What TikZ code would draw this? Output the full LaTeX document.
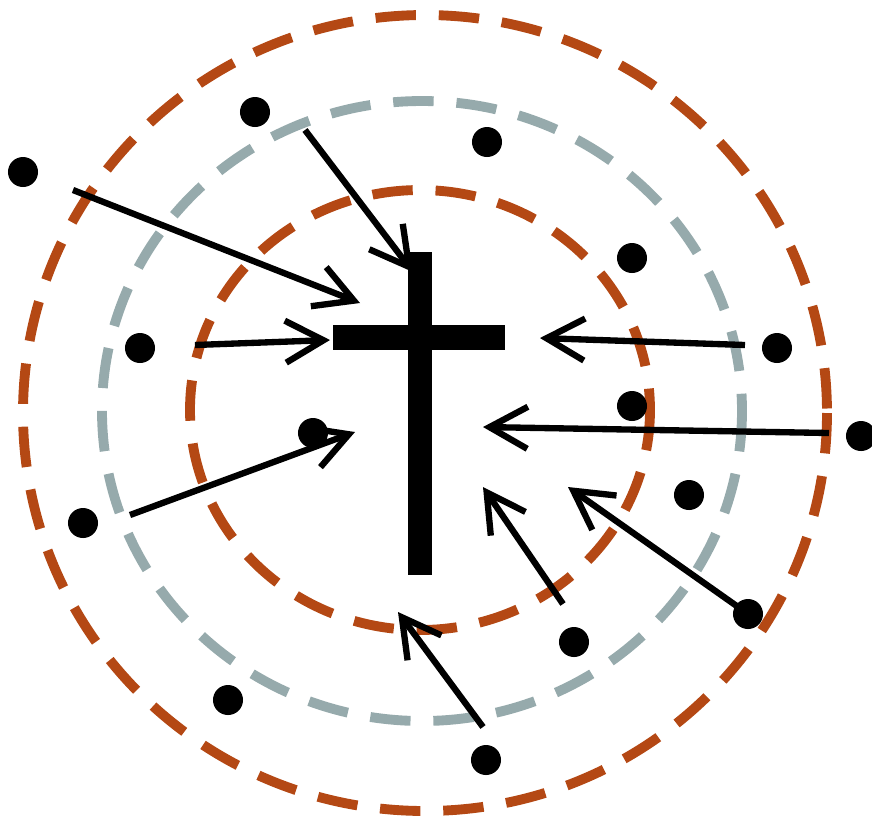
\documentclass[tikz,border=0pt]{standalone}
\usetikzlibrary{arrows.meta}
\definecolor{rust}{RGB}{180,72,20}
\definecolor{slate}{RGB}{150,170,172}
\tikzset{
  pull/.style={-{Straight Barb[length=3.8mm,width=4.2mm]}, line width=1.8pt, black},
  dotn/.style={circle, fill=black, inner sep=0pt, minimum size=3mm},
  ring/.style={line width=2.8pt, dash pattern=on 11.5pt off 6.5pt},
}
\begin{document}
\begin{tikzpicture}[x=0.01cm,y=-0.01cm]
  \useasboundingbox (0,0) rectangle (872,823);
  % rings
  \draw[ring, rust] (425,413) ellipse [x radius=402, y radius=398];
  \draw[ring, slate] (422,411) ellipse [x radius=320, y radius=310];
  \draw[ring, rust] (420,410) ellipse [x radius=230, y radius=220];
  % cross
  \fill (408,252) rectangle (432,575);
  \fill (333,325) rectangle (505,350);
  % dots
  \foreach \n/\px/\py in {1/23/172, 2/255/112, 3/487/142, 4/632/258,
                          5/140/348, 6/777/348, 7/632/406, 8/861/436,
                          9/313/433, 10/689/495, 11/83/523, 12/748/614,
                          13/574/642, 14/228/700, 15/486/760}
    \node[dotn] (d\n) at (\px,\py) {};
  % arrows
  \foreach \n/\sx/\sy/\ex/\ey in {1/73/190/360/303, 2/305/130/413/272,
                                  3/195/345/330/340, 4/745/345/540/338,
                                  5/829/433/483/427, 6/130/515/355/432,
                                  7/563/604/483/487, 8/741/609/568/487,
                                  9/483/727/398/612}{
    \coordinate (s\n) at (\sx,\sy);
    \coordinate (e\n) at (\ex,\ey);
    \draw[pull] (s\n) -- (e\n);
  }
\end{tikzpicture}
\end{document}
